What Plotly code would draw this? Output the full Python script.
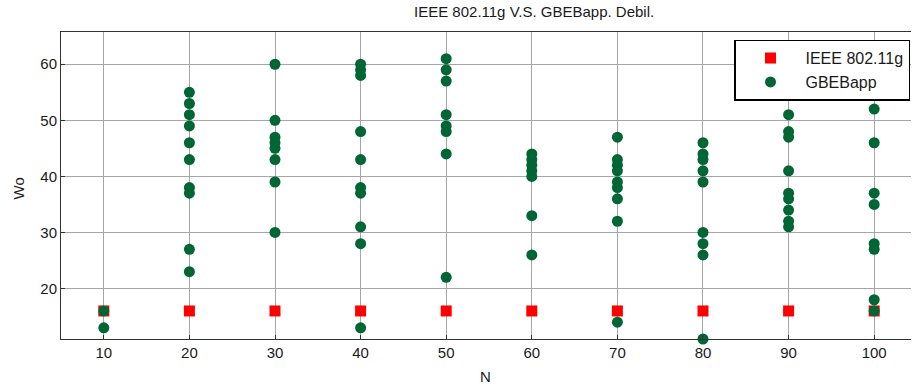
import plotly.graph_objects as go

# Network sizes on the x axis
n_values = [10, 20, 30, 40, 50, 60, 70, 80, 90, 100]

# IEEE 802.11g contention window (same at every N)
ieee_wo = [16, 16, 16, 16, 16, 16, 16, 16, 16, 16]

# GBEBapp contention window samples per N
gbeb_wo = {
    10: [16, 13],
    20: [55, 53, 51, 49, 46, 43, 38, 37, 27, 23],
    30: [60, 50, 47, 46, 45, 43, 39, 30],
    40: [60, 59, 58, 48, 43, 38, 37, 31, 28, 13],
    50: [61, 59, 57, 51, 49, 48, 44, 22],
    60: [44, 43, 42, 41, 40, 33, 26],
    70: [47, 43, 42, 41, 39, 38, 36, 32, 14],
    80: [46, 44, 43, 41, 39, 30, 28, 26, 11],
    90: [51, 48, 47, 41, 37, 36, 34, 32, 31],
    100: [52, 46, 37, 35, 28, 27, 18, 16],
}

x_ticks = [10, 20, 30, 40, 50, 60, 70, 80, 90, 100]
y_ticks = [20, 30, 40, 50, 60]

gbeb_x = [n for n in n_values for _ in gbeb_wo[n]]
gbeb_y = [v for n in n_values for v in gbeb_wo[n]]

FONT = "Liberation Sans, Arial, sans-serif"
TXT = "#1a1a1a"

fig = go.Figure()
fig.add_trace(go.Scatter(
    x=n_values, y=ieee_wo, mode="markers", name="IEEE 802.11g",
    marker=dict(symbol="square", size=11, color="#ff0000", line=dict(width=0)),
    cliponaxis=False,
))
fig.add_trace(go.Scatter(
    x=gbeb_x, y=gbeb_y, mode="markers", name="GBEBapp",
    marker=dict(symbol="circle", size=11, color="#006633", line=dict(width=0)),
    cliponaxis=False,
))

axis_common = dict(
    showgrid=True, gridcolor="#a6a6a6", gridwidth=1,
    showline=True, linecolor="#333333", linewidth=1,
    ticks="inside", ticklen=4, tickcolor="#333333",
    tickfont=dict(family=FONT, size=15, color=TXT),
    zeroline=False,
)

fig.update_xaxes(range=[5, 104.3], tickvals=x_ticks, mirror=True, **axis_common)
fig.update_yaxes(range=[11.0, 65.75], tickvals=y_ticks, mirror=False, **axis_common)

fig.update_layout(
    width=912, height=389, autosize=False,
    margin=dict(l=61, r=1, t=32, b=50),
    paper_bgcolor="white", plot_bgcolor="white",
    font=dict(family=FONT, color=TXT),
    showlegend=True,
    legend=dict(
        x=(910 - 61) / 850, xanchor="right", y=0.975, yanchor="top",
        bgcolor="white", bordercolor="#000000", borderwidth=1.5,
        font=dict(family=FONT, size=16, color=TXT),
        itemwidth=60, tracegroupgap=0,
    ),
    annotations=[
        dict(text="IEEE 802.11g V.S. GBEBapp. Debil.", xref="paper", yref="paper",
             x=(534 - 61) / 850, y=1, yshift=21, xanchor="center", yanchor="middle",
             showarrow=False, font=dict(family=FONT, size=15, color=TXT)),
        dict(text="N", xref="paper", yref="paper",
             x=(485 - 61) / 850, y=0, yshift=-37, xanchor="center", yanchor="middle",
             showarrow=False, font=dict(family=FONT, size=15, color=TXT)),
        dict(text="Wo", xref="paper", yref="paper",
             x=0, xshift=-43, y=0.5, yshift=-3, xanchor="center", yanchor="middle",
             textangle=-90, showarrow=False, font=dict(family=FONT, size=15, color=TXT)),
    ],
)

fig.write_html("out.html")
